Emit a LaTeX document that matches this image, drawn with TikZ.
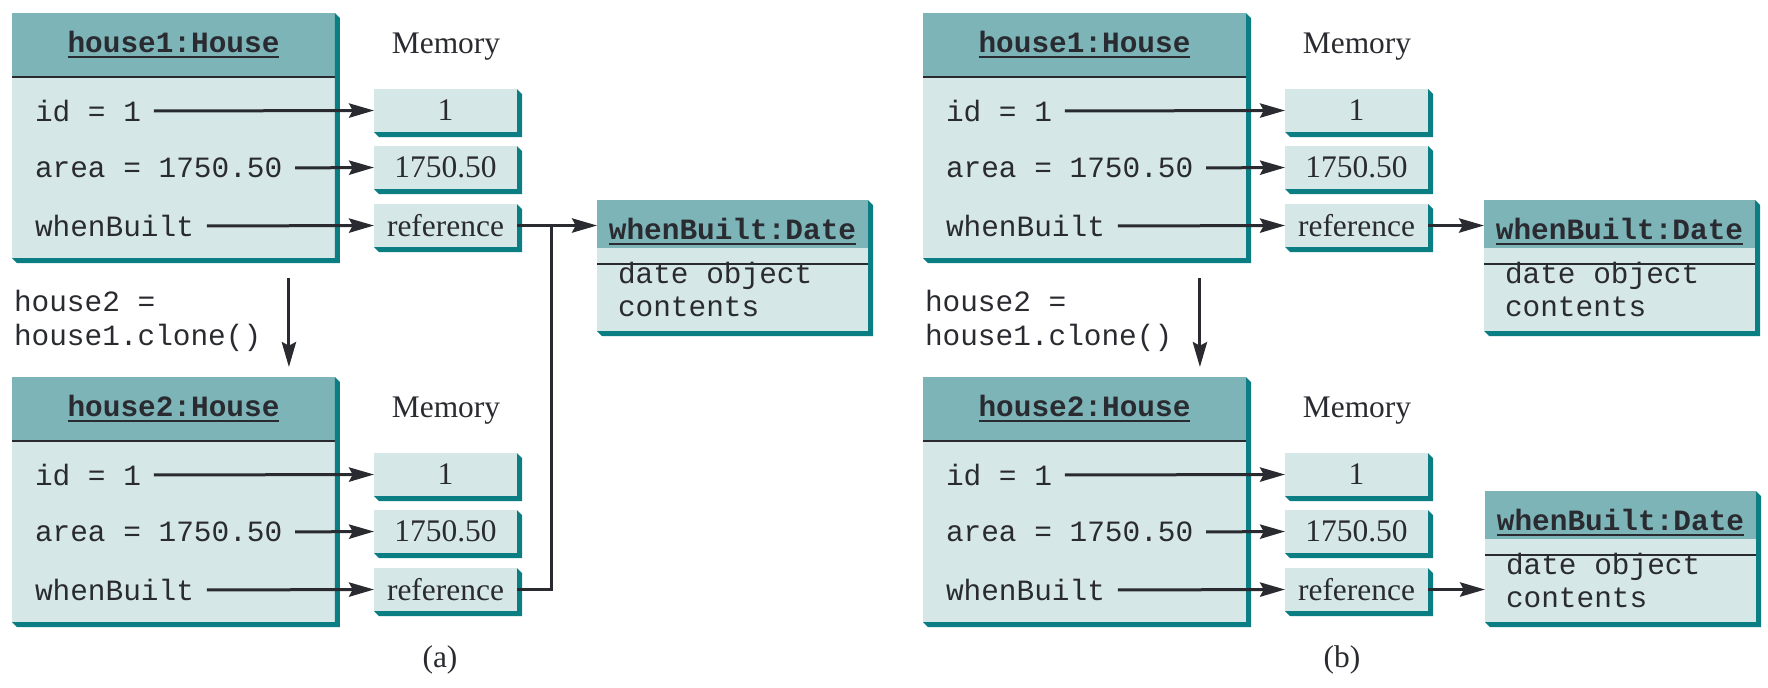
\documentclass[tikz,border=0pt]{standalone}
\usepackage{fontspec}
\setmainfont{Liberation Serif}
\setmonofont{Liberation Mono}
\usetikzlibrary{arrows.meta}
\definecolor{ink}{HTML}{2A2B30}
\definecolor{hdrfill}{HTML}{7CB4B8}
\definecolor{bodyfill}{HTML}{D5E7E7}
\definecolor{edge}{HTML}{0A7E82}
\newcommand{\codefont}{\ttfamily\fontsize{10.3}{11.7}\selectfont}
\newcommand{\memfont}{\rmfamily\fontsize{11}{13}\selectfont}
\newcommand{\slabshadow}[2]{%
  \fill[edge] (#1.north east) -- ++(5,5) -- ([shift={(5,5)}]#2.south east)
    -- ([shift={(5,5)}]#2.south west) -- (#2.south west) -- (#2.south east) -- cycle;}
\tikzset{
  hd/.style={fill=hdrfill, anchor=north west, inner sep=0pt, outer sep=0pt,
    minimum height=22.4pt, font=\codefont\bfseries},
  bd/.style={fill=bodyfill, anchor=north west, inner sep=0pt, outer sep=0pt,
    font=\codefont},
  house/.style={minimum width=113.05pt},
  date/.style={minimum width=94.85pt},
  cell/.style={fill=bodyfill, inner sep=0pt, outer sep=0pt, minimum width=50.05pt,
    minimum height=15.05pt, font=\memfont},
  attr/.style={anchor=west, inner sep=0pt, outer sep=0pt, font=\codefont},
  mem/.style={font=\memfont},
  divider/.style={draw=ink, line width=0.7pt},
  wire/.style={draw=ink, line width=1.05pt},
  link/.style={wire, ->}
}
\tikzset{>={Stealth[length=8.75pt,width=5pt,inset=1.3pt]}}

\begin{document}
\begin{tikzpicture}[x=0.35pt,y=-0.35pt,text=ink]
  \useasboundingbox (0,0) rectangle (1768,687);
  \foreach \p/\dx in {a/0,b/911} {
    \foreach \k/\dy in {1/0,2/364} {
      \node[hd,house] (hd\p\k) at (12+\dx,13+\dy) {\underline{house\k:House}};
      \node[bd,house,minimum height=63.35pt] (bd\p\k) at (12+\dx,77+\dy) {};
      \draw[divider] (hd\p\k.south west) -- (hd\p\k.south east);
      \slabshadow{hd\p\k}{bd\p\k}
      \node[mem] (mem\p\k) at (446+\dx,47+\dy) {Memory};
      \foreach \f/\t/\v/\y in {n/id = 1/1/111, s/area = 1750.50/1750.50/168, w/whenBuilt/reference/226} {
        \node[attr] (\f\p\k) at (35+\dx,\y+\dy) {\t};
        \node[cell] (c\f\p\k) at (445.5+\dx,\y+\dy-0.5) {\v};
        \slabshadow{c\f\p\k}{c\f\p\k}
        \draw[link, shorten <=4.5pt] (\f\p\k.east) -- (c\f\p\k.west);
      }
    }
    \node[attr, align=left] (cl\p) at (14+\dx,321) {house2 =\\house1.clone()};
    \draw[link, shorten <=7pt, shorten >=3.5pt] ([xshift=40.4pt]bd\p1.south) -- ([xshift=40.4pt]hd\p2.north);
  }

  \node[hd,date] (dha) at (597,200) {\underline{whenBuilt:Date}};
  \node[bd,date,minimum height=29.05pt,text width=80.15pt,inner xsep=7.35pt,align=flush left] (dba) at (597,248) {date object\\contents};
  \draw[divider] (dha.south west) -- (dha.south east);
  \slabshadow{dha}{dba}
  \coordinate (join) at (551,226);
  \draw[link] (cwa1.east) -- (cwa1.east -| dha.west);
  \draw[wire] (cwa2.east) -| (join);

  \foreach \j/\x/\y in {1/1484/200, 2/1485/491} {
    \node[hd,date] (dhb\j) at (\x,\y) {\underline{whenBuilt:Date}};
    \node[bd,date,minimum height=29.05pt,text width=80.15pt,inner xsep=7.35pt,align=flush left] (dbb\j) at (\x,\y+48) {date object\\contents};
    \draw[divider] (dhb\j.south west) -- (dhb\j.south east);
    \slabshadow{dhb\j}{dbb\j}
    \draw[link] (cwb\j.east) -- (cwb\j.east -| dbb\j.west);
  }

  \node[mem] (capa) at (440,660) {(a)};
  \node[mem] (capb) at (1342,660) {(b)};
\end{tikzpicture}
\end{document}
